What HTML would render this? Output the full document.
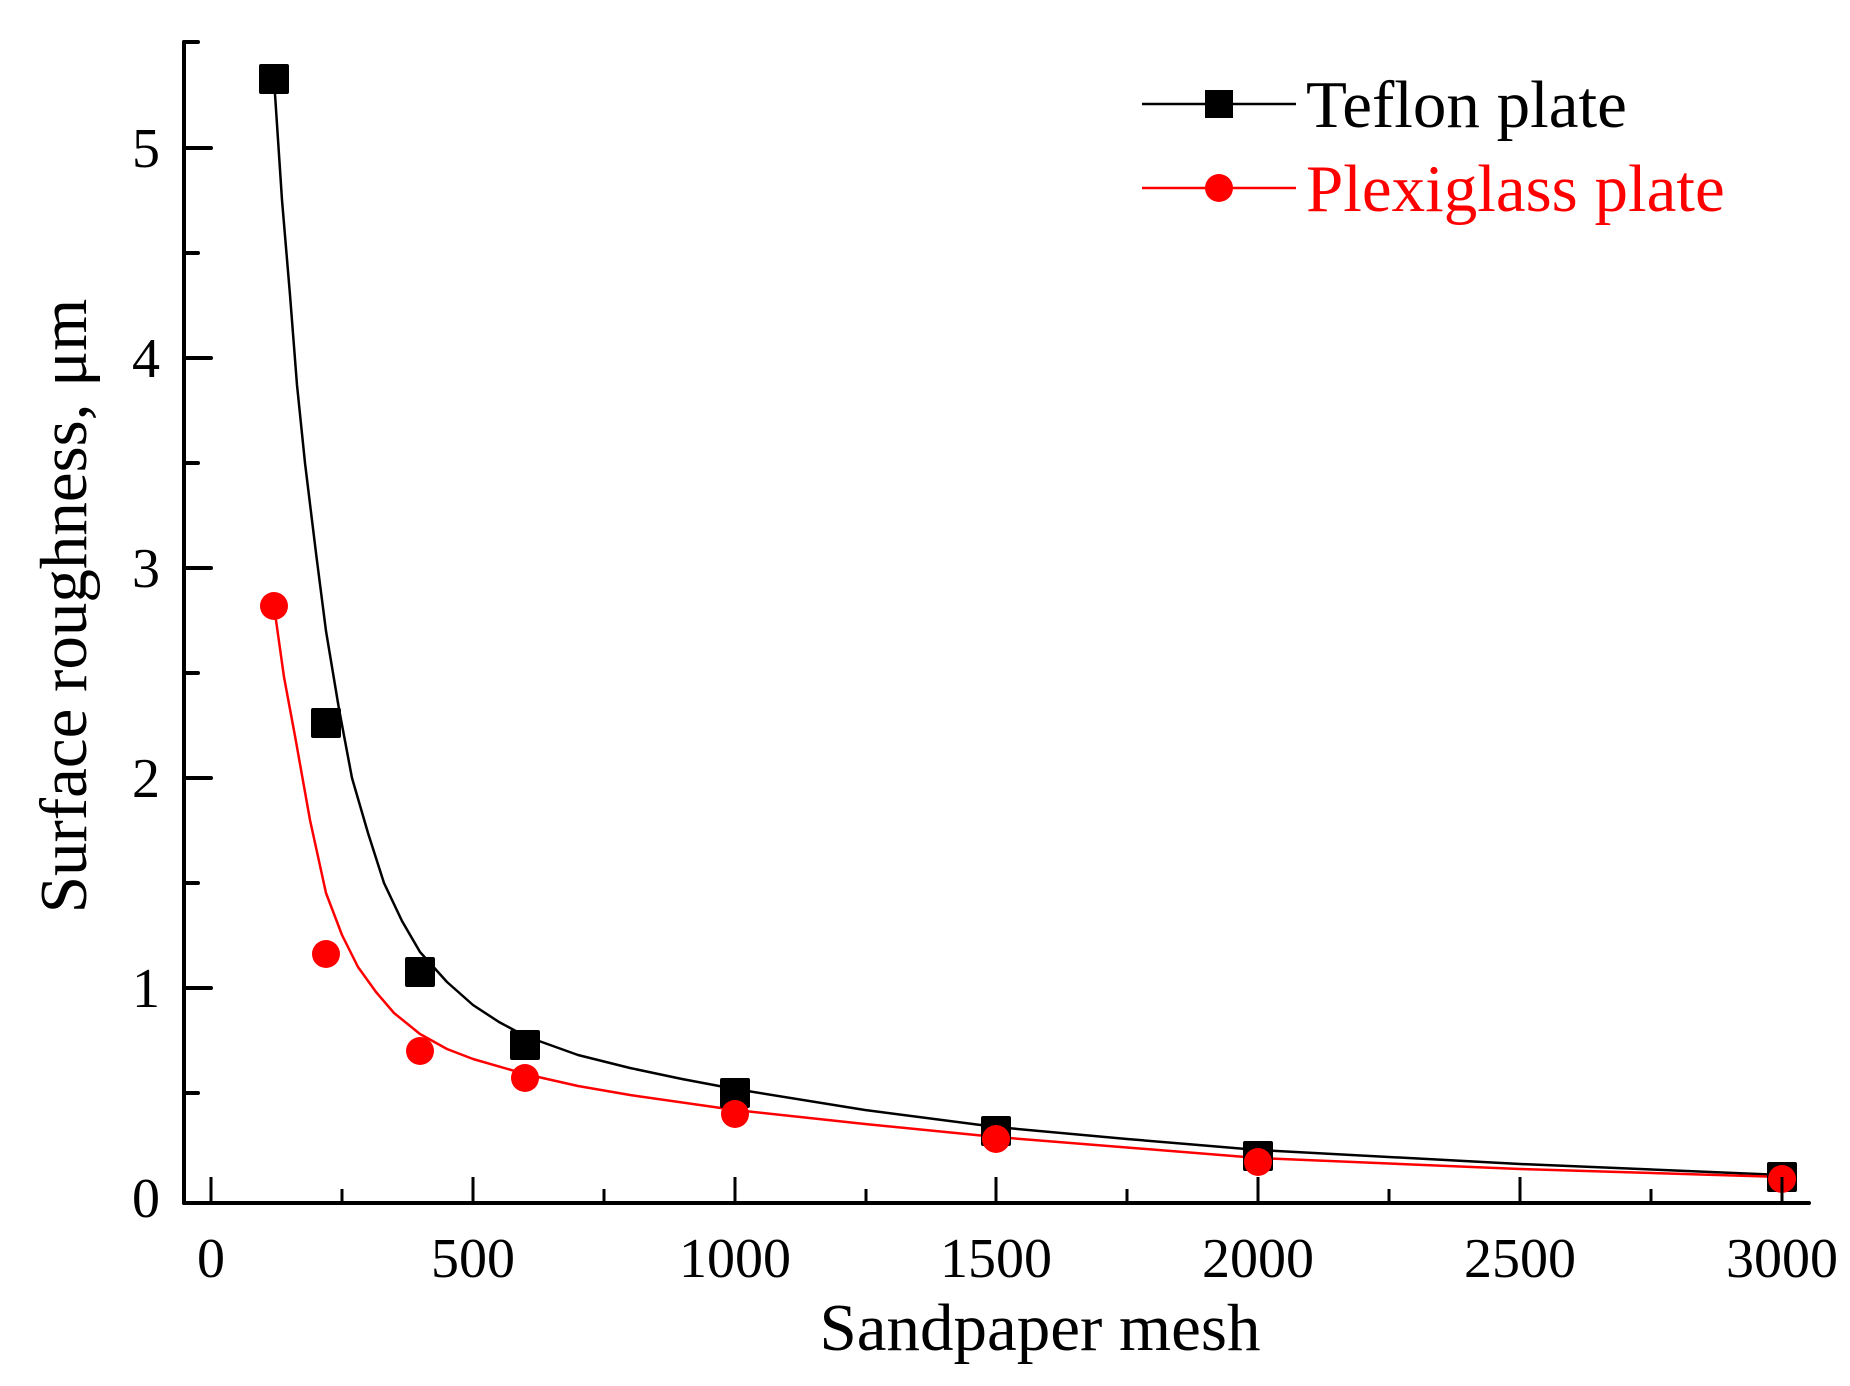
<!DOCTYPE html>
<html><head><meta charset="utf-8"><style>body{margin:0;background:#fff}svg{display:block}</style></head>
<body>
<svg width="1850" height="1386" viewBox="0 0 1850 1386" xmlns="http://www.w3.org/2000/svg" font-family="Liberation Serif, serif">
<polyline fill="none" stroke="#000" stroke-width="2.5" stroke-linejoin="round" points="274,79 282,200 290,295 297,385 305,463 316,553 326,631 339,709 352,778 368,833 384,883 402,921 420,952 447,982 473,1005 499,1022 525,1036 578,1055 630,1068 682,1079 735,1089 865,1110 996,1127 1127,1139 1258,1150 1520,1164 1782,1175"/>
<polyline fill="none" stroke="#f00" stroke-width="2.5" stroke-linejoin="round" points="274,606 284,677 295,736 310,820 326,893 342,935 358,967 376,992 394,1013 420,1034 447,1049 473,1059 525,1074 578,1086 630,1095 735,1110 865,1124 996,1137 1258,1158 1520,1169 1782,1177"/>
<g fill="#000">
<rect x="259" y="64" width="30" height="30" rx="2"/>
<rect x="311" y="708" width="30" height="30" rx="2"/>
<rect x="405" y="957" width="30" height="30" rx="2"/>
<rect x="510" y="1030" width="30" height="30" rx="2"/>
<rect x="720" y="1078" width="30" height="30" rx="2"/>
<rect x="981" y="1116" width="30" height="30" rx="2"/>
<rect x="1243" y="1141" width="30" height="30" rx="2"/>
<rect x="1767" y="1162" width="30" height="30" rx="2"/>
</g>
<g fill="#f00">
<circle cx="274" cy="606" r="14"/>
<circle cx="326" cy="954" r="14"/>
<circle cx="420" cy="1051" r="14"/>
<circle cx="525" cy="1078" r="14"/>
<circle cx="735" cy="1114" r="14"/>
<circle cx="996" cy="1139" r="14"/>
<circle cx="1258" cy="1162" r="14"/>
<circle cx="1782" cy="1179" r="14"/>
</g>
<g stroke="#000" stroke-width="4" stroke-linecap="round">
<line x1="184" y1="42" x2="184" y2="1203"/>
<line x1="184" y1="1203" x2="1809" y2="1203"/>
<line x1="184" y1="42" x2="198" y2="42"/>
<line x1="184" y1="148" x2="211" y2="148"/>
<line x1="184" y1="358" x2="211" y2="358"/>
<line x1="184" y1="568" x2="211" y2="568"/>
<line x1="184" y1="778" x2="211" y2="778"/>
<line x1="184" y1="988" x2="211" y2="988"/>
<line x1="184" y1="253" x2="198" y2="253"/>
<line x1="184" y1="463" x2="198" y2="463"/>
<line x1="184" y1="673" x2="198" y2="673"/>
<line x1="184" y1="883" x2="198" y2="883"/>
<line x1="184" y1="1093" x2="198" y2="1093"/>
</g>
<g stroke="#000" stroke-width="3">
<line x1="211" y1="1203" x2="211" y2="1177"/>
<line x1="473" y1="1203" x2="473" y2="1177"/>
<line x1="735" y1="1203" x2="735" y2="1177"/>
<line x1="996" y1="1203" x2="996" y2="1177"/>
<line x1="1258" y1="1203" x2="1258" y2="1177"/>
<line x1="1520" y1="1203" x2="1520" y2="1177"/>
<line x1="1782" y1="1203" x2="1782" y2="1177"/>
<line x1="342" y1="1203" x2="342" y2="1189"/>
<line x1="604" y1="1203" x2="604" y2="1189"/>
<line x1="866" y1="1203" x2="866" y2="1189"/>
<line x1="1127" y1="1203" x2="1127" y2="1189"/>
<line x1="1389" y1="1203" x2="1389" y2="1189"/>
<line x1="1651" y1="1203" x2="1651" y2="1189"/>
</g>
<g font-size="56" text-anchor="end" fill="#000">
<text x="160" y="167">5</text>
<text x="160" y="377">4</text>
<text x="160" y="587">3</text>
<text x="160" y="797">2</text>
<text x="160" y="1007">1</text>
<text x="160" y="1217">0</text>
</g>
<g font-size="56" text-anchor="middle" fill="#000">
<text x="211" y="1277">0</text>
<text x="473" y="1277">500</text>
<text x="735" y="1277">1000</text>
<text x="996" y="1277">1500</text>
<text x="1258" y="1277">2000</text>
<text x="1520" y="1277">2500</text>
<text x="1782" y="1277">3000</text>
</g>
<text x="1040" y="1350" font-size="67" text-anchor="middle">Sandpaper mesh</text>
<text transform="translate(86,606) rotate(-90)" font-size="67" text-anchor="middle">Surface roughness, μm</text>
<line x1="1142" y1="104" x2="1296" y2="104" stroke="#000" stroke-width="2.5"/>
<rect x="1205" y="90" width="28" height="28" fill="#000"/>
<text x="1306" y="127" font-size="67">Teflon plate</text>
<line x1="1142" y1="188" x2="1296" y2="188" stroke="#f00" stroke-width="2.5"/>
<circle cx="1219" cy="188" r="14" fill="#f00"/>
<text x="1306" y="211" font-size="67" fill="#f00">Plexiglass plate</text>
</svg>
</body></html>
